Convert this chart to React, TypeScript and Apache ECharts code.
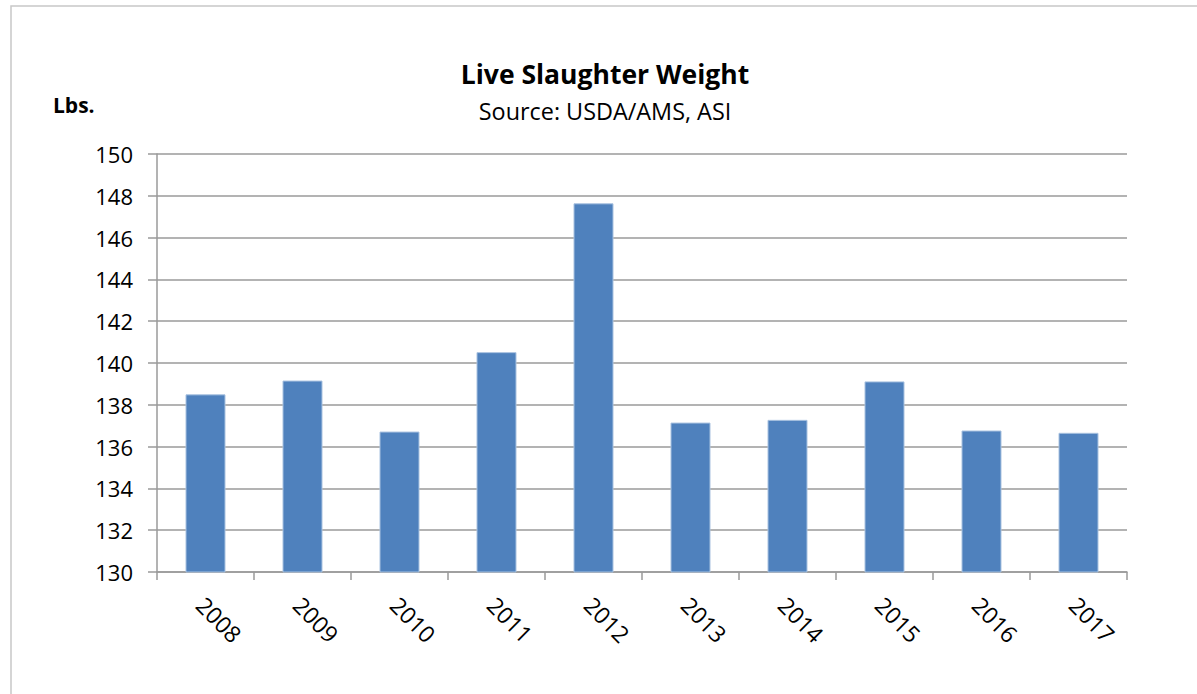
import React, { useEffect, useRef } from "react";
import * as echarts from "echarts";

const years = ["2008", "2009", "2010", "2011", "2012", "2013", "2014", "2015", "2016", "2017"];
const weights = [138.5, 139.16, 136.72, 140.52, 147.64, 137.15, 137.28, 139.12, 136.77, 136.66];
const yMin = 130;
const yMax = 150;
const yStep = 2;
const titleText = "Live Slaughter Weight";
const subtitleText = "Source: USDA/AMS, ASI";
const unitText = "Lbs.";

const FONT = "'Open Sans', 'Noto Sans', sans-serif";
const GRAY = "#9a9a9a";

export default function App() {
  const ref = useRef<HTMLDivElement>(null);
  useEffect(() => {
    document.body.style.margin = "0";
    const chart = echarts.init(ref.current!, undefined, { renderer: "svg" });
    chart.setOption({
      animation: false,
      backgroundColor: "#ffffff",
      textStyle: { fontFamily: FONT },
      graphic: [
        {
          type: "rect",
          shape: { x: 11, y: 6, width: 1300, height: 800 },
          style: { fill: "none", stroke: "#c8c8c8", lineWidth: 1.5 },
          silent: true,
        },
        {
          type: "text",
          x: 605,
          y: 87,
          style: {
            text: titleText,
            fontFamily: FONT,
            fontSize: 26.5,
            fontWeight: "bold",
            fill: "#000000",
            textAlign: "center",
            textVerticalAlign: "bottom",
          },
        },
        {
          type: "text",
          x: 605,
          y: 122,
          style: {
            text: subtitleText,
            fontFamily: FONT,
            fontSize: 23.4,
            fill: "#000000",
            textAlign: "center",
            textVerticalAlign: "bottom",
          },
        },
        {
          type: "text",
          x: 53,
          y: 115,
          style: {
            text: unitText,
            fontFamily: FONT,
            fontSize: 21,
            fontWeight: "bold",
            fill: "#000000",
            textAlign: "left",
            textVerticalAlign: "bottom",
          },
        },
      ],
      grid: { left: 157, right: 70, top: 154, bottom: 122, containLabel: false },
      xAxis: {
        type: "category",
        data: years,
        boundaryGap: true,
        axisLine: { show: true, lineStyle: { color: GRAY, width: 1.5 } },
        axisTick: { show: true, interval: 0, length: 8, alignWithLabel: false, lineStyle: { color: GRAY, width: 1.5 } },
        axisLabel: {
          interval: 0,
          rotate: -45,
          fontFamily: FONT,
          fontSize: 23,
          color: "#000000",
          verticalAlign: "top",
          lineHeight: 14,
          margin: 24,
        },
      },
      yAxis: {
        type: "value",
        min: yMin,
        max: yMax,
        interval: yStep,
        axisLine: { show: true, lineStyle: { color: GRAY, width: 1.5 } },
        axisTick: { show: true, length: 9, lineStyle: { color: GRAY, width: 1.5 } },
        splitLine: { show: true, lineStyle: { color: GRAY, width: 1.5 } },
        axisLabel: { fontFamily: FONT, fontSize: 22, color: "#000000", margin: 24 },
      },
      series: [
        {
          type: "bar",
          data: weights,
          barWidth: 40,
          itemStyle: { color: "#4F81BD", borderColor: "#a9c2e0", borderWidth: 1 },
        },
      ],
    });
    return () => chart.dispose();
  }, []);
  return <div ref={ref} style={{ width: 1197, height: 694 }} />;
}
